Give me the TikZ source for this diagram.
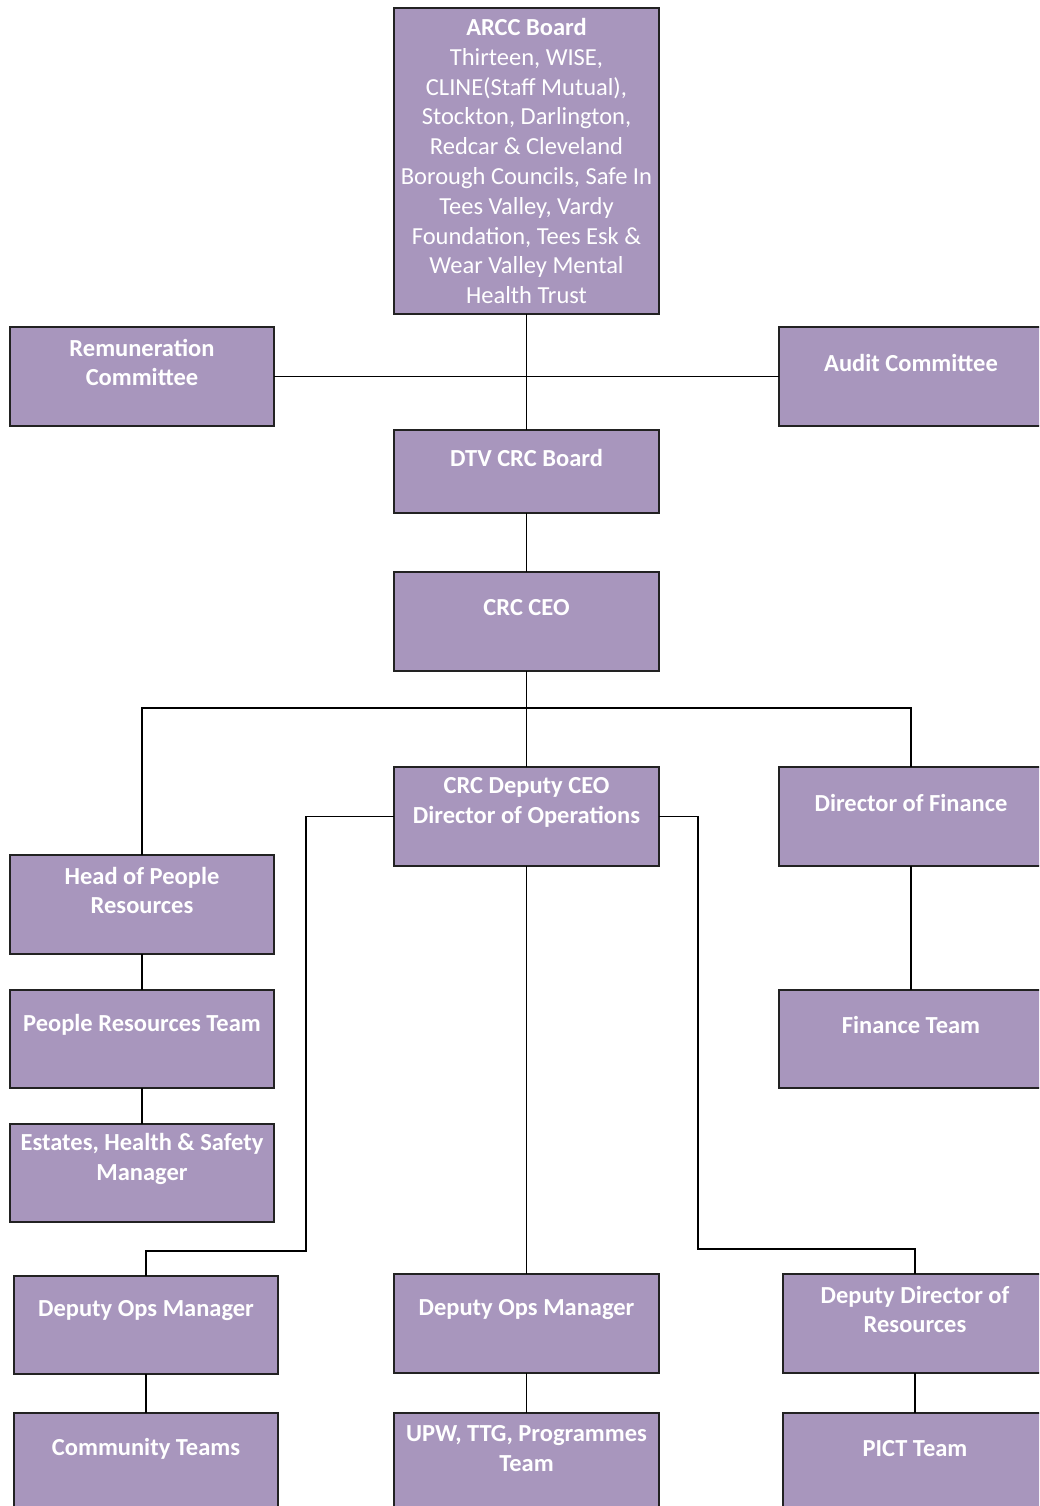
\documentclass[tikz,border=0pt]{standalone}
\usepackage{fontspec}
\setmainfont{Carlito}
\definecolor{boxfill}{RGB}{168,150,189}
\definecolor{boxline}{RGB}{34,34,34}
\newcommand\obox[6]{%
  \node[box,minimum width=#4pt,minimum height=#5pt] (#1) at (#2,#3) {};
  \node[lbl] (#1-t) at ([yshift=14pt]#1.center) {#6};}
\begin{document}
\begin{tikzpicture}[x=1pt,y=-1pt,
  box/.style={draw=boxline, fill=boxfill, line width=1.4pt, rectangle, anchor=north west, inner sep=0pt, outer sep=0pt},
  lbl/.style={text=white, font=\bfseries\fontsize{24.5}{29.8}\selectfont, align=center, inner sep=0pt},
  conn/.style={draw=black, line width=1.4pt}]
\useasboundingbox (0,0) rectangle (1039,1506);
\clip (0,0) rectangle (1039,1506);

% connectors first (behind boxes)
\node[box,minimum width=265pt,minimum height=306pt] (arcc) at (394,8) {};
\obox{rem}{10}{327}{264}{99}{Remuneration\\Committee}
\obox{audit}{779}{327}{264}{99}{Audit Committee}
\obox{dtv}{394}{430}{265}{83}{DTV CRC Board}
\obox{ceo}{394}{572}{265}{99}{CRC CEO}
\obox{dceo}{394}{767}{265}{99}{CRC Deputy CEO\\Director of Operations}
\obox{dof}{779}{767}{264}{99}{Director of Finance}
\obox{hop}{10}{855}{264}{99}{Head of People\\Resources}
\obox{prt}{10}{990}{264}{98}{People Resources Team}
\obox{est}{10}{1124}{264}{98}{Estates, Health \& Safety\\Manager}
\obox{fin}{779}{990}{264}{98}{Finance Team}
\obox{domA}{14}{1276}{264}{98}{Deputy Ops Manager}
\obox{ct}{14}{1413}{264}{99}{Community Teams}
\obox{domB}{394}{1274}{265}{99}{Deputy Ops Manager}
\obox{upw}{394}{1413}{265}{99}{UPW, TTG, Programmes\\Team}
\obox{ddr}{783}{1274}{264}{99}{Deputy Director of\\Resources}
\obox{pict}{783}{1413}{264}{99}{PICT Team}

\node[lbl, font=\fontsize{24.5}{29.8}\selectfont] (arcc-t) at (arcc.center)
  {\textbf{ARCC Board}\\Thirteen, WISE,\\CLINE(Staff Mutual),\\Stockton, Darlington,\\Redcar \& Cleveland\\Borough Councils, Safe In\\Tees Valley, Vardy\\Foundation, Tees Esk \&\\Wear Valley Mental\\Health Trust};

\coordinate (bus) at (526,708);
\coordinate (lj) at (306,1251);
\coordinate (rj) at (698,1249);

\draw[conn] (arcc.south) -- (dtv.north);
\draw[conn] (rem.east) -- (audit.west);
\draw[conn] (dtv.south) -- (ceo.north);
\draw[conn] (ceo.south) -- (dceo.north);
\draw[conn] (hop.north) |- (bus) -| (dof.north);
\draw[conn] (dceo.west) -| (lj) -| (domA.north);
\draw[conn] (dceo.east) -| (rj) -| (ddr.north);
\draw[conn] (dceo.south) -- (domB.north);
\draw[conn] (hop.south) -- (prt.north);
\draw[conn] (prt.south) -- (est.north);
\draw[conn] (dof.south) -- (fin.north);
\draw[conn] (domA.south) -- (ct.north);
\draw[conn] (domB.south) -- (upw.north);
\draw[conn] (ddr.south) -- (pict.north);
\end{tikzpicture}
\end{document}
